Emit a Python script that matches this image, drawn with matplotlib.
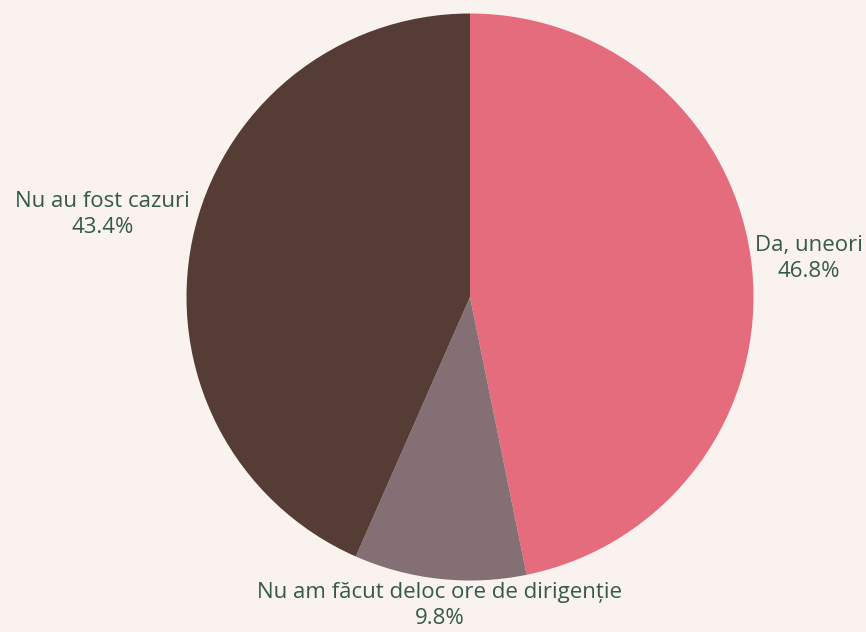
import numpy as np
import matplotlib
matplotlib.use("Agg")
import matplotlib.pyplot as plt

labels = ["Da, uneori", "Nu am făcut deloc ore de dirigenție", "Nu au fost cazuri"]
values = [46.8, 9.8, 43.4]
colors = ["#e46c7c", "#846f75", "#553c35"]

bg = "#faf2ee"
txt = "#35594b"

fig = plt.figure(figsize=(8.66, 6.32), dpi=100, facecolor=bg)
# pie centre ~ (470, 297) px, radius ~283 px
r_px = 283.5
ax = fig.add_axes([(470 - r_px) / 866, (335 - r_px) / 632, 2 * r_px / 866, 2 * r_px / 632])
ax.set_facecolor(bg)

wedges, _ = ax.pie(values, colors=colors, startangle=90, counterclock=False,
                   radius=1, wedgeprops=dict(linewidth=0))
ax.set_xlim(-1, 1)
ax.set_ylim(-1, 1)
ax.set_aspect("equal")
ax.axis("off")

for w, lab, v in zip(wedges, labels, values):
    ang = np.deg2rad((w.theta1 + w.theta2) / 2)
    c, s = np.cos(ang), np.sin(ang)
    x, y = 1.01 * c, 1.01 * s
    if abs(s) > 0.9:
        ha, va = "center", ("top" if s < 0 else "bottom")
    else:
        ha = "left" if c > 0 else "right"
        if s > 0.15:
            va = "bottom"
        else:
            va = "center"
            y += 0.035
    ax.text(x, y, "%s\n%.1f%%" % (lab, v), ha=ha, va=va, multialignment="center",
            fontsize=16, color=txt, family="Open Sans", linespacing=1.32, clip_on=False)

fig.savefig("out.png", dpi=100, facecolor=bg)
